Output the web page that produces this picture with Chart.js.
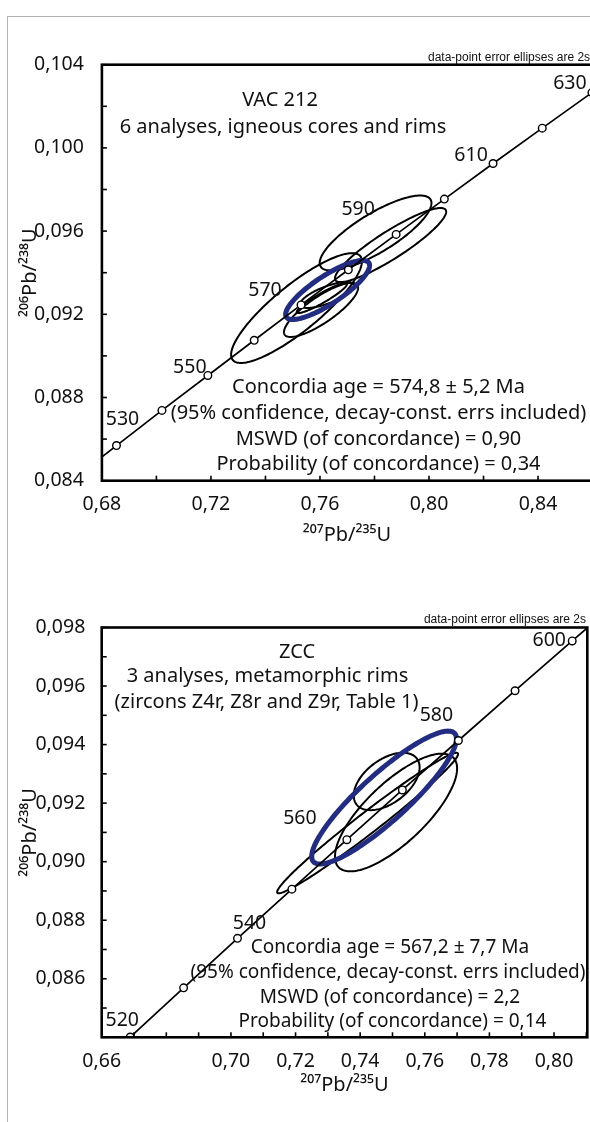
<!DOCTYPE html>
<html><head><meta charset="utf-8">
<script src="https://cdn.jsdelivr.net/npm/chart.js@4.4.0/dist/chart.umd.min.js"></script>
<style>
html,body{margin:0;padding:0;background:#fff;}
body{width:590px;height:1122px;overflow:hidden;position:relative;}
#frame{position:absolute;left:7px;top:16px;width:700px;height:1200px;border-left:1.5px solid #b4b4b4;border-top:1.5px solid #b4b4b4;}
.box{position:absolute;left:0;}
#boxA{top:0;width:600px;height:560px;}
#boxB{top:580px;width:600px;height:542px;}
</style></head><body>
<div id="frame"></div>
<div class="box" id="boxA"><canvas id="cA"></canvas></div>
<div class="box" id="boxB"><canvas id="cB"></canvas></div>
<script>
// ---- Concordia curve (age in Ma, 207Pb/235U, 206Pb/238U) ----
const ages      = [510, 520, 530, 540, 550, 560, 570, 580, 590, 600, 610, 620, 630, 640];
const pb207u235 = [0.65247, 0.66883, 0.68535, 0.70203, 0.71887, 0.73588, 0.75306, 0.77041, 0.78794, 0.80563, 0.82350, 0.84155, 0.85978, 0.87818];
const pb206u238 = [0.08233, 0.08401, 0.08569, 0.08738, 0.08906, 0.09075, 0.09245, 0.09414, 0.09584, 0.09754, 0.09925, 0.10095, 0.10266, 0.10438];
const topLabelAges = [530, 550, 570, 590, 610, 630];
const botLabelAges = [520, 540, 560, 580, 600];

// ---- VAC 212 analyses (x, 2s x, y, 2s y, rho) ----
const topEllX   = [0.7514, 0.7804, 0.7859, 0.7604, 0.7626, 0.7607];
const topEllSX  = [0.0240, 0.0205, 0.0204, 0.0136, 0.0099, 0.0092];
const topEllY   = [0.09230, 0.09591, 0.09533, 0.09221, 0.09293, 0.09278];
const topEllSY  = [0.00264, 0.00180, 0.00178, 0.00130, 0.000625, 0.00072];
const topEllRho = [0.85, 0.80, 0.90, 0.82, 0.72, 0.93];
const topMean   = [0.7628, 0.0154, 0.09317, 0.00142, 0.83];

// ---- ZCC analyses ----
const botEllX   = [0.7482, 0.7423, 0.7511];
const botEllSX  = [0.0102, 0.0280, 0.0189];
const botEllY   = [0.09274, 0.09132, 0.09168];
const botEllSY  = [0.00098, 0.00240, 0.00201];
const botEllRho = [0.49, 0.982, 0.75];
const botMean   = [0.7474, 0.0224, 0.09219, 0.00227, 0.885];

// ---- tick labels ----
const topXTickLabels = [0.68, 0.72, 0.76, 0.80, 0.84];
const topYTickLabels = [0.084, 0.088, 0.092, 0.096, 0.100, 0.104];
const botXTickLabels = [0.66, 0.70, 0.72, 0.74, 0.76, 0.78, 0.80];
const botYTickLabels = [0.086, 0.088, 0.090, 0.092, 0.094, 0.096, 0.098];

const FONT = '"Noto Sans", sans-serif';
const BLUE = '#222c80';

function has(list, v) { return list.some(t => Math.abs(t - v) < 1e-9); }

const decor = {
  id: 'decor',
  beforeDatasetsDraw(chart, args, o) {
    const ctx = chart.ctx, xs = chart.scales.x, ys = chart.scales.y, a = chart.chartArea;
    ctx.save();
    ctx.beginPath(); ctx.rect(a.left, a.top, a.right - a.left, a.bottom - a.top); ctx.clip();
    const draw = (x, sx, y, sy, rho, color, w) => {
      const k = Math.sqrt(1 - rho * rho);
      ctx.beginPath();
      for (let i = 0; i <= 180; i++) {
        const t = i / 180 * 2 * Math.PI;
        const px = xs.getPixelForValue(x + sx * Math.cos(t));
        const py = ys.getPixelForValue(y + sy * (rho * Math.cos(t) + k * Math.sin(t)));
        if (i) ctx.lineTo(px, py); else ctx.moveTo(px, py);
      }
      ctx.closePath(); ctx.strokeStyle = color; ctx.lineWidth = w; ctx.stroke();
    };
    o.ell.x.forEach((x, i) => draw(x, o.ell.sx[i], o.ell.y[i], o.ell.sy[i], o.ell.rho[i], '#000', 2));
    const m = o.mean; draw(m[0], m[1], m[2], m[3], m[4], BLUE, 5);
    ctx.restore();
  },
  afterDraw(chart, args, o) {
    const ctx = chart.ctx, xs = chart.scales.x, ys = chart.scales.y, a = chart.chartArea;
    ctx.save();
    ctx.strokeStyle = '#000'; ctx.lineWidth = 1.6;
    xs.ticks.forEach(t => { const p = xs.getPixelForValue(t.value); ctx.beginPath(); ctx.moveTo(p, a.bottom); ctx.lineTo(p, a.bottom - 5); ctx.stroke(); });
    ys.ticks.forEach(t => { const p = ys.getPixelForValue(t.value); ctx.beginPath(); ctx.moveTo(a.left, p); ctx.lineTo(a.left + 5, p); ctx.stroke(); });
    ctx.lineWidth = 2.6;
    ctx.strokeRect(a.left, a.top, a.right - a.left, a.bottom - a.top);
    // age labels
    ctx.fillStyle = '#111'; ctx.textAlign = 'center'; ctx.textBaseline = 'middle';
    ctx.font = '19.5px ' + FONT;
    o.labelAges.forEach(age => {
      const i = ages.indexOf(age), off = o.labelOffsets[age];
      ctx.fillText(String(age), xs.getPixelForValue(pb207u235[i]) + off[0], ys.getPixelForValue(pb206u238[i]) + off[1]);
    });
    o.texts.forEach(t => {
      ctx.font = t.font; ctx.textAlign = t.align || 'center';
      ctx.fillText(t.text, t.x, t.y);
    });
    ctx.restore();
  }
};

function makeChart(id, c) {
  new Chart(document.getElementById(id), {
    type: 'scatter',
    data: { datasets: [{
      data: ages.map((a, i) => ({ x: pb207u235[i], y: pb206u238[i] })),
      showLine: true, borderColor: '#000', borderWidth: 1.7,
      pointRadius: 3.8, pointBackgroundColor: '#fff', pointBorderColor: '#000', pointBorderWidth: 1.4,
      pointHoverRadius: 3.8
    }]},
    options: {
      responsive: true, maintainAspectRatio: false, animation: false,
      layout: { padding: c.pad },
      plugins: { legend: { display: false }, tooltip: { enabled: false }, decor: c.decor },
      events: [],
      scales: {
        x: {
          type: 'linear', min: c.xmin, max: c.xmax,
          grid: { display: false }, border: { display: false },
          ticks: { stepSize: c.xstep, includeBounds: false, autoSkip: false, maxRotation: 0,
            color: '#111', font: { family: FONT, size: 19.5 }, padding: c.xpad,
            callback: v => has(c.xLabels, v) ? v.toFixed(2).replace('.', ',') : '' },
          title: { display: true, text: '\u00B2\u2070\u2077Pb/\u00B2\u00B3\u2075U', color: '#111',
            font: { family: FONT, size: 20 }, padding: { top: 0, bottom: c.xtitlePad } },
          afterFit: s => { s.height = c.xh; }
        },
        y: {
          type: 'linear', min: c.ymin, max: c.ymax,
          grid: { display: false }, border: { display: false },
          ticks: { stepSize: c.ystep, includeBounds: false, autoSkip: false,
            color: '#111', font: { family: FONT, size: 19.5 }, padding: c.ypad,
            callback: v => has(c.yLabels, v) ? v.toFixed(3).replace('.', ',') : '' },
          title: { display: true, text: '\u00B2\u2070\u2076Pb/\u00B2\u00B3\u2078U', color: '#111',
            font: { family: FONT, size: 20 }, padding: { top: 18, bottom: 0 } },
          afterFit: s => { s.width = c.yw; }
        }
      }
    },
    plugins: [decor]
  });
}

makeChart('cA', {
  pad: { top: 64.7, right: 8, bottom: 0, left: 0 },
  xmin: 0.68, xmax: 0.8598, xstep: 0.02, ymin: 0.084, ymax: 0.104, ystep: 0.002,
  xLabels: topXTickLabels, yLabels: topYTickLabels,
  xpad: 4, ypad: 10, xtitlePad: 13, xh: 79.3, yw: 101.9,
  decor: {
    ell: { x: topEllX, sx: topEllSX, y: topEllY, sy: topEllSY, rho: topEllRho },
    mean: topMean,
    labelAges: topLabelAges,
    labelOffsets: { 530: [6, -26], 550: [-18, -8], 570: [-36, -15], 590: [-38, -25], 610: [-22, -8], 630: [-22, -9] },
    texts: [
      { text: 'data-point error ellipses are 2s', x: 428, y: 57.3, font: '12px "Liberation Sans", Arial, sans-serif', align: 'left' },
      { text: 'VAC 212', x: 280, y: 100, font: '20px ' + FONT },
      { text: '6 analyses, igneous cores and rims', x: 283, y: 127, font: '20px ' + FONT },
      { text: 'Concordia age = 574,8 \u00B1 5,2 Ma', x: 378.5, y: 387.3, font: '20px ' + FONT },
      { text: '(95% confidence, decay-const. errs included)', x: 378.5, y: 413.5, font: '20px ' + FONT },
      { text: 'MSWD (of concordance) = 0,90', x: 378.5, y: 439.3, font: '20px ' + FONT },
      { text: 'Probability (of concordance) = 0,34', x: 378.5, y: 464.7, font: '20px ' + FONT }
    ]
  }
});

makeChart('cB', {
  pad: { top: 47.5, right: 12.7, bottom: 0, left: 0 },
  xmin: 0.66, xmax: 0.8103, xstep: 0.01, ymin: 0.084, ymax: 0.098, ystep: 0.001,
  xLabels: botXTickLabels, yLabels: botYTickLabels,
  xpad: 4, ypad: 8.4, xtitlePad: 25, xh: 84.7, yw: 101.7,
  decor: {
    ell: { x: botEllX, sx: botEllSX, y: botEllY, sy: botEllSY, rho: botEllRho },
    mean: botMean,
    labelAges: botLabelAges,
    labelOffsets: { 520: [-8, -17], 540: [12, -15], 560: [-47, -21], 580: [-22, -25], 600: [-23, -1] },
    texts: [
      { text: 'data-point error ellipses are 2s', x: 586, y: 39.3, font: '12px "Liberation Sans", Arial, sans-serif', align: 'right' },
      { text: 'ZCC', x: 297, y: 72, font: '20px ' + FONT },
      { text: '3 analyses, metamorphic rims', x: 267.5, y: 96.7, font: '20px ' + FONT },
      { text: '(zircons Z4r, Z8r and Z9r, Table 1)', x: 266.5, y: 122.7, font: '20px ' + FONT },
      { text: 'Concordia age = 567,2 \u00B1 7,7 Ma', x: 390, y: 367.5, font: '19px ' + FONT },
      { text: '(95% confidence, decay-const. errs included)', x: 388, y: 392.5, font: '19px ' + FONT },
      { text: 'MSWD (of concordance) = 2,2', x: 390, y: 417.5, font: '19px ' + FONT },
      { text: 'Probability (of concordance) = 0,14', x: 392.5, y: 442, font: '19px ' + FONT }
    ]
  }
});
</script>
</body></html>
